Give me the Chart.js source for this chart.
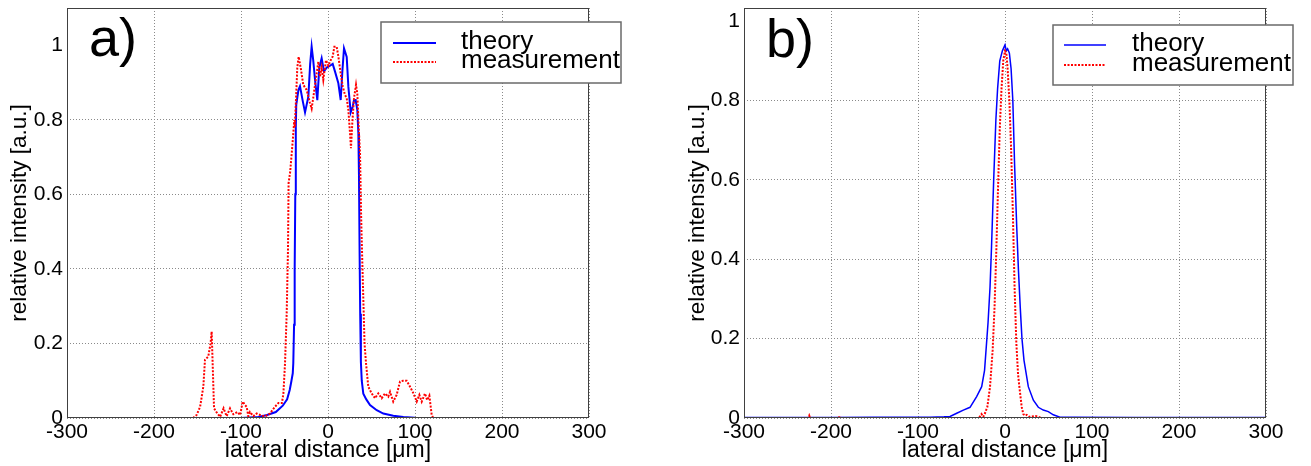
<!DOCTYPE html>
<html><head><meta charset="utf-8">
<script src="https://cdn.jsdelivr.net/npm/chart.js@4.4.1/dist/chart.umd.min.js"></script>
<style>
html,body{margin:0;padding:0;background:#fff;width:1311px;height:466px;overflow:hidden}
#wa{position:absolute;left:0;top:0;width:655px;height:466px}
#wb{position:absolute;left:655px;top:0;width:656px;height:466px}
</style></head><body>
<div id="wa"><canvas id="ca" width="655" height="466" style="width:655px;height:466px"></canvas></div>
<div id="wb"><canvas id="cb" width="656" height="466" style="width:656px;height:466px"></canvas></div>
<script>
// ---- data ----
const seriesNames = ['theory', 'measurement'];
const panelLabels = ['a)', 'b)'];
const xTitle = 'lateral distance [\u03bcm]';
const yTitle = 'relative intensity [a.u.]';
const xTickValues = [-300, -200, -100, 0, 100, 200, 300];
const yTickValues = [0, 0.2, 0.4, 0.6, 0.8, 1];

// panel a) theory
const aTheoryX = [-300,-100,-80,-70,-60,-52,-47,-44,-42,-40.5,-39.9,-39,-38.3,-37.6,-37,-36.5,-34,-32.2,-29,-26.4,-22.6,-20.5,-18.8,-17,-14.9,-12.3,-10,-7.3,-4.6,-1.5,2.3,5.4,8,11.9,14.6,16.5,18.4,21.5,23.4,26.1,28.4,29.9,31.8,33.7,34.9,35.6,36.3,37,37.8,38.8,40.6,44,48.3,56,63.6,75,86.6,100,120,300];
const aTheoryY = [0,0,0.003,0.008,0.016,0.033,0.05,0.075,0.1,0.12,0.147,0.25,0.4,0.6,0.78,0.84,0.88,0.89,0.85,0.82,0.862,0.95,0.996,0.96,0.907,0.853,0.94,0.965,0.93,0.94,0.945,0.95,0.93,0.898,0.853,0.93,0.992,0.969,0.889,0.82,0.835,0.853,0.853,0.826,0.764,0.65,0.45,0.28,0.15,0.1,0.065,0.05,0.035,0.021,0.012,0.006,0.003,0.001,0,0];
// panel a) measurement
const aMeasX = [-300,-155,-151,-147,-143.3,-141.4,-137.6,-135,-133.7,-132.6,-131,-128,-124,-120,-116.5,-112.6,-108.8,-104,-101,-98,-95.5,-93.5,-91.6,-89.7,-85.8,-82,-78,-72.4,-66.7,-61,-57,-53,-51.3,-49.4,-47.5,-46,-45.3,-43.5,-41,-38.7,-38.2,-36.8,-35.3,-33.7,-31.4,-28.4,-24.5,-20.7,-18.8,-16.9,-14.9,-13,-11.1,-9.2,-7.3,-5.4,-2.3,0.4,3.1,5.4,7.3,10,11.9,14.6,16.9,19.5,21.5,23.4,25.3,26.4,27.9,29.9,32.2,33.7,35.3,36.8,38,38.5,40,42,43.7,46.3,50.2,54,57.8,61.7,65.5,69.3,71.3,75,78.9,82.8,86.6,90.5,94.3,98.2,102,105,107.7,111.5,114,116.5,119.2,121,300];
const aMeasY = [0,0,0.008,0.03,0.084,0.156,0.165,0.2,0.232,0.147,0.026,0.015,0.003,0.026,0.005,0.026,0.01,0.016,0.008,0.044,0.035,0.03,0.005,0.016,0.005,0.012,0.008,0.004,0.012,0.03,0.04,0.04,0.065,0.147,0.28,0.45,0.63,0.66,0.73,0.8,0.78,0.853,0.94,0.969,0.94,0.894,0.88,0.845,0.83,0.86,0.894,0.925,0.956,0.916,0.94,0.907,0.96,0.945,0.96,0.97,0.996,0.996,0.97,0.925,0.89,0.867,0.858,0.826,0.764,0.724,0.79,0.858,0.894,0.87,0.78,0.711,0.55,0.5,0.37,0.2,0.147,0.084,0.066,0.053,0.066,0.053,0.066,0.057,0.07,0.044,0.062,0.098,0.1,0.1,0.084,0.066,0.044,0.062,0.044,0.066,0.048,0.06,0.008,0,0];

// panel b) theory
const bTheoryX = [-300,-200,-150,-100,-86,-70,-63.2,-55.5,-47.9,-40.2,-32.6,-26.8,-23.5,-21.8,-19.5,-17.2,-15.5,-13,-10.5,-8.5,-6,-3,-1,0,1.5,3,5,7,9,11,13.5,15.5,17.5,19.5,21.8,26.8,32.6,38.3,44,49.8,55.5,63.2,80,150,300];
const bTheoryY = [0.001,0.001,0.002,0.002,0.002,0.003,0.004,0.012,0.02,0.027,0.054,0.079,0.12,0.171,0.24,0.33,0.43,0.6,0.75,0.83,0.9,0.925,0.935,0.94,0.925,0.93,0.92,0.88,0.8,0.64,0.48,0.37,0.28,0.2,0.146,0.079,0.045,0.027,0.02,0.016,0.008,0.002,0.002,0.001,0.001];
// panel b) measurement
const bMeasX = [-300,-226,-225,-224,-191,-190,-189,-30,-27,-25,-23,-20.3,-17.2,-14.2,-12,-10,-8,-6,-4,-2,0,1.5,3,5,7,9,11,13,15,16.5,19.2,21,23,25,28,35,38,42,300];
const bMeasY = [0,0,0.006,0,0,0.005,0,0,0.01,0.003,0.012,0.028,0.079,0.171,0.28,0.42,0.58,0.73,0.83,0.9,0.925,0.92,0.88,0.8,0.68,0.52,0.33,0.19,0.11,0.079,0.028,0.01,0.006,0.008,0.003,0.005,0.003,0,0];

// ---- helpers ----
function pts(xs, ys) { return xs.map((x, i) => ({x: x, y: ys[i]})); }
function fmtTick(v) { return String(parseFloat(Number(v).toFixed(3))); }

Chart.defaults.font.family = '"Liberation Sans", Arial, Helvetica, sans-serif';
Chart.defaults.color = '#000';

const framePlugin = {
  id: 'frame',
  afterDraw(chart, args, o) {
    const ctx = chart.ctx, a = chart.chartArea;
    ctx.save();
    ctx.strokeStyle = '#404040';
    ctx.lineWidth = 1;
    ctx.setLineDash([]);
    ctx.strokeRect(Math.round(a.left) + 0.5, Math.round(a.top) + 0.5,
                   Math.round(a.right - a.left) - 1, Math.round(a.bottom - a.top) - 1);
    ctx.fillStyle = '#000';
    ctx.font = o.panelFont;
    ctx.textBaseline = 'alphabetic';
    ctx.textAlign = 'left';
    ctx.fillText(o.panel, a.left + o.panelDx, o.panelY);
    const L = o.legend;
    ctx.fillStyle = '#fff';
    ctx.fillRect(L.x, L.y, L.w, L.h);
    ctx.strokeStyle = '#6a6a6a';
    ctx.lineWidth = 1.5;
    ctx.strokeRect(L.x, L.y, L.w, L.h);
    chart.data.datasets.forEach((ds, i) => {
      ctx.strokeStyle = ds.borderColor;
      ctx.lineWidth = ds.borderWidth;
      ctx.setLineDash(ds.borderDash || []);
      ctx.beginPath();
      ctx.moveTo(L.lx1, L.rows[i]);
      ctx.lineTo(L.lx2, L.rows[i]);
      ctx.stroke();
      ctx.setLineDash([]);
      ctx.fillStyle = '#000';
      ctx.font = L.font;
      ctx.textBaseline = 'middle';
      ctx.fillText(ds.label, L.tx, L.rows[i] - 1);
    });
    ctx.restore();
  }
};

function makeChart(canvasId, cfg) {
  return new Chart(document.getElementById(canvasId), {
    type: 'line',
    data: {
      datasets: [
        {label: seriesNames[0], data: pts(cfg.thX, cfg.thY), borderColor: '#0000ff',
         borderWidth: cfg.thWidth, pointRadius: 0, tension: 0, order: 1},
        {label: seriesNames[1], data: pts(cfg.msX, cfg.msY), borderColor: '#ff0000',
         borderWidth: 2, borderDash: [2, 1.5], pointRadius: 0, tension: 0, order: 0}
      ]
    },
    options: {
      responsive: false,
      animation: false,
      events: [],
      layout: {padding: {top: 8, left: 0, right: cfg.padRight, bottom: 0}},
      plugins: {
        legend: {display: false},
        tooltip: {enabled: false},
        frame: cfg.frame
      },
      scales: {
        x: {
          type: 'linear', min: -300, max: 300,
          afterBuildTicks: s => { s.ticks = xTickValues.map(v => ({value: v})); },
          afterFit: s => { s.height = 48; },
          ticks: {font: {size: 21}, padding: 2, color: '#000', callback: fmtTick},
          grid: {color: '#8a8a8a', lineWidth: 1, drawTicks: false},
          border: {display: false, dash: [1, 2]},
          title: {display: true, text: xTitle, font: {size: 23}, color: '#000',
                  padding: {top: 0, bottom: 2}}
        },
        y: {
          type: 'linear', min: 0, max: cfg.yMax,
          afterBuildTicks: s => { s.ticks = yTickValues.map(v => ({value: v})); },
          afterFit: s => { s.width = cfg.yWidth; s.paddingTop = 0; s.paddingBottom = 0; },
          ticks: {font: {size: 21}, padding: 4, color: '#000', callback: fmtTick},
          grid: {
            color: c => (c.tick && Math.abs(c.tick.value - 1) < 1e-9) ? 'rgba(0,0,0,0)' : '#8a8a8a',
            lineWidth: 1, drawTicks: false
          },
          border: {display: false, dash: [1, 2]},
          title: {display: true, text: yTitle, font: {size: 22.5}, color: '#000',
                  padding: {top: cfg.yTitlePad, bottom: 0}}
        }
      }
    },
    plugins: [framePlugin]
  });
}

makeChart('ca', {
  thX: aTheoryX, thY: aTheoryY, msX: aMeasX, msY: aMeasY, thWidth: 2,
  yMax: 1.1, yWidth: 67, padRight: 66, yTitlePad: 6,
  frame: {
    panel: panelLabels[0], panelFont: '54px "Liberation Sans", Arial, sans-serif', panelDx: 22, panelY: 56,
    legend: {x: 381, y: 22, w: 240, h: 61, lx1: 393, lx2: 436, tx: 461, rows: [43, 62],
             font: '26px "Liberation Sans", Arial, sans-serif'}
  }
});

makeChart('cb', {
  thX: bTheoryX, thY: bTheoryY, msX: bMeasX, msY: bMeasY, thWidth: 1.5,
  yMax: 1.033, yWidth: 89, padRight: 45, yTitlePad: 29,
  frame: {
    panel: panelLabels[1], panelFont: '54px "Liberation Sans", Arial, sans-serif', panelDx: 22, panelY: 57,
    legend: {x: 1053 - 655, y: 25, w: 240, h: 60, lx1: 1064 - 655, lx2: 1106 - 655, tx: 1132 - 655, rows: [45, 65],
             font: '26px "Liberation Sans", Arial, sans-serif'}
  }
});
</script>
</body></html>
